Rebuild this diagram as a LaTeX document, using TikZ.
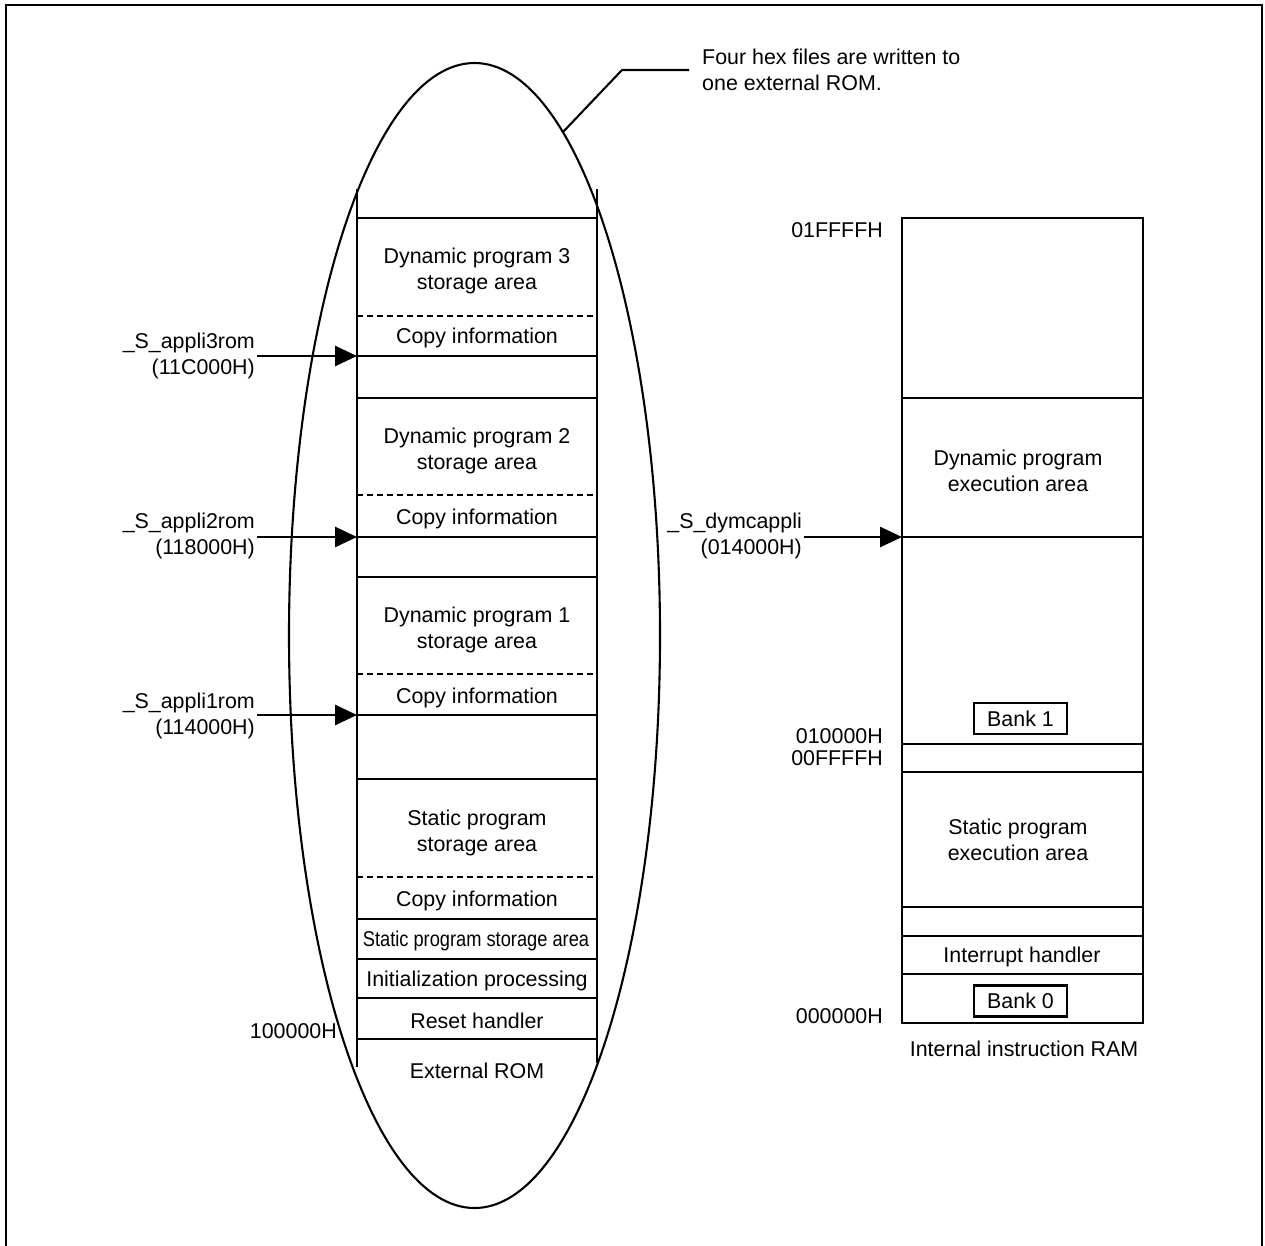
\documentclass[tikz,border=0pt]{standalone}
\usepackage{fontspec}
\setmainfont{Liberation Sans}
\usetikzlibrary{arrows.meta}

\tikzset{
  lbl/.style={inner sep=0pt, font=\fontsize{21.4pt}{26pt}\selectfont},
  boundary/.style={line width=1.1pt},
  copyline/.style={line width=1.1pt, dash pattern=on 6pt off 4pt},
  column/.style={line width=2.8pt},
  ptr/.style={line width=2.8pt, -{Triangle[length=22pt,width=20pt]}},
  bankbox/.style={draw, line width=2.3pt, minimum width=93pt, minimum height=31pt, inner sep=0pt,
                  font=\fontsize{21.4pt}{26pt}\selectfont},
}

\begin{document}
\begin{tikzpicture}[x=1pt, y=-1pt]
\useasboundingbox (0,0) rectangle (1265,1245);

% outer frame (open at the bottom)
\draw[line width=2.8pt] (6,1250) -- (6,5) -- (1262,5) -- (1262,1250);

% ---------------- external ROM memory column ----------------
\draw[column] (357,189) -- (357,1067);
\draw[column] (597,189) -- (597,1063);

\foreach \yy in {218,356,398,537,577,715,779,919,959,998,1039}
  \draw[boundary] (357,\yy) -- (597,\yy);
\foreach \yy in {316,495,674,877}
  \draw[copyline] (357,\yy) -- (597,\yy);

\node[lbl, align=center] (dp3) at (477,271) {Dynamic program 3\\storage area};
\node[lbl] (ci3) at (477,338) {Copy information};
\node[lbl, align=center] (dp2) at (477,451) {Dynamic program 2\\storage area};
\node[lbl] (ci2) at (477,519) {Copy information};
\node[lbl, align=center] (dp1) at (477,630) {Dynamic program 1\\storage area};
\node[lbl] (ci1) at (477,698) {Copy information};
\node[lbl, align=center] (sp) at (477,833) {Static program\\storage area};
\node[lbl] (ci0) at (477,901) {Copy information};
\node[lbl] (sps) at (476,941) {\scalebox{0.853}[1]{Static program storage area}};
\node[lbl] (init) at (477,981) {Initialization processing};
\node[lbl] (rst) at (477,1021) {Reset handler};
\node[lbl] (erom) at (477,1071) {External ROM};
\node[lbl, anchor=base east] (a100) at (337,1038) {100000H};

% entry points of the dynamic programs
\node[lbl, align=right, anchor=east] (s3) at (255,356) {\_S\_appli3rom\\(11C000H)};
\node[lbl, align=right, anchor=east] (s2) at (255,536) {\_S\_appli2rom\\(118000H)};
\node[lbl, align=right, anchor=east] (s1) at (255,716) {\_S\_appli1rom\\(114000H)};
\coordinate (e3) at (357,356);
\coordinate (e2) at (357,537);
\coordinate (e1) at (357,715);
\draw[ptr] ([xshift=2pt]s3.east |- e3) -- (e3);
\draw[ptr] ([xshift=2pt]s2.east |- e2) -- (e2);
\draw[ptr] ([xshift=2pt]s1.east |- e1) -- (e1);

% ellipse grouping the ROM contents, with its callout
\draw[line width=2.1pt] (474.5,635.5) ellipse [x radius=185.5pt, y radius=572.5pt];
\coordinate (co0) at (563,132);
\coordinate (co1) at (622,70);
\coordinate (co2) at (689,70);
\draw[line width=2.1pt] (co0) -- (co1) -- (co2);
\node[lbl, align=left, anchor=west] (note) at (702,70) {Four hex files are written to\\one external ROM.};

% ---------------- internal instruction RAM ----------------
\draw[line width=2.8pt] (902,218) rectangle (1143,1023);
\foreach \yy in {398,537,772,907,936,974}
  \draw[boundary] (902,\yy) -- (1143,\yy);
\draw[line width=2.8pt] (902,744) -- (1143,744);

\node[lbl, align=center] (dpe) at (1018,471) {Dynamic program\\execution area};
\node[lbl, align=center] (spe) at (1018,840) {Static program\\execution area};
\node[lbl] (irq) at (1022,957) {Interrupt handler};
\node[bankbox] (bank1) at (1020.5,718.5) {Bank 1};
\node[bankbox] (bank0) at (1020.5,1001) {Bank 0};
\node[lbl] (iram) at (1024,1049) {Internal instruction RAM};

\node[lbl, anchor=base east] (r1) at (883,237) {01FFFFH};
\node[lbl, anchor=base east] (r2) at (883,743) {010000H};
\node[lbl, anchor=base east] (r3) at (883,765) {00FFFFH};
\node[lbl, anchor=base east] (r4) at (883,1023) {000000H};

\node[lbl, align=right, anchor=east] (sd) at (802,536) {\_S\_dymcappli\\(014000H)};
\coordinate (ed) at (902,537);
\draw[ptr] ([xshift=2pt]sd.east |- ed) -- (ed);
\end{tikzpicture}
\end{document}
